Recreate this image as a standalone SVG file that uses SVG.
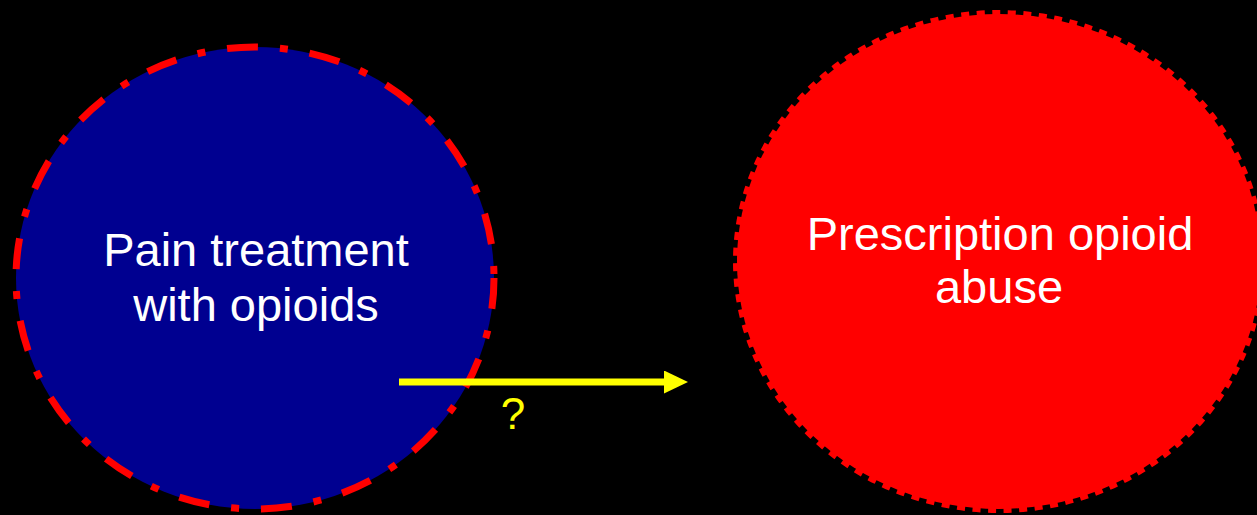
<svg xmlns="http://www.w3.org/2000/svg" width="1257" height="515" viewBox="0 0 1257 515">
  <style>
    .lbl { font-family: "Liberation Sans", Arial, sans-serif; font-size: 47px; fill: #ffffff; text-anchor: middle; }
    .q { font-family: "Liberation Sans", Arial, sans-serif; font-size: 44px; fill: #ffff00; text-anchor: middle; }
  </style>
  <defs>
    <marker id="ah" viewBox="0 0 24 23" refX="0" refY="11.5" markerWidth="24" markerHeight="23" markerUnits="userSpaceOnUse" orient="auto">
      <polygon points="0,0 24,11.5 0,23" fill="#ffff00"/>
    </marker>
  </defs>
  <rect x="0" y="0" width="1257" height="515" fill="#000000"/>
  <g id="node-pain">
    <ellipse cx="255" cy="278" rx="239" ry="231" fill="#000090" stroke="#ff0000" stroke-width="7" stroke-dasharray="31 22 8 22"/>
    <text class="lbl" x="256" y="266">Pain treatment</text>
    <text class="lbl" x="256" y="321">with opioids</text>
  </g>
  <g id="node-abuse">
    <ellipse cx="999" cy="261.5" rx="262" ry="247.5" fill="#ff0000" stroke="#ff0000" stroke-width="8" stroke-dasharray="8 7.5"/>
    <text class="lbl" x="1000" y="250">Prescription opioid</text>
    <text class="lbl" x="999" y="303">abuse</text>
  </g>
  <g id="connectors">
    <line x1="399" y1="382" x2="664" y2="382" stroke="#ffff00" stroke-width="7" marker-end="url(#ah)"/>
    <text class="q" x="513" y="429">?</text>
  </g>
</svg>
